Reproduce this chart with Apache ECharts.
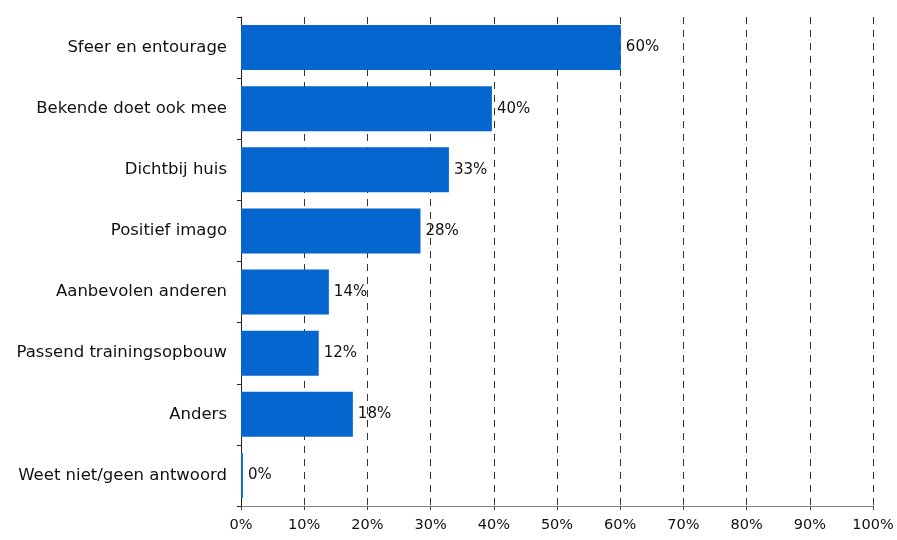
<!DOCTYPE html>
<html><head><meta charset="utf-8">
<script src="https://cdn.jsdelivr.net/npm/echarts@6/dist/echarts.min.js"></script>
<style>html,body{margin:0;padding:0;background:#fff}#c{width:897px;height:540px}</style>
</head><body><div id="c"></div>
<script>
const categories = ["Sfeer en entourage","Bekende doet ook mee","Dichtbij huis","Positief imago","Aanbevolen anderen","Passend trainingsopbouw","Anders","Weet niet/geen antwoord"];
const values = [60.1, 39.7, 32.9, 28.4, 13.9, 12.3, 17.7, 0.3];
const labels = ["60%","40%","33%","28%","14%","12%","18%","0%"];
const xTicks = [0,10,20,30,40,50,60,70,80,90,100];

const chart = echarts.init(document.getElementById('c'), null, {renderer:'canvas'});
const font = "'DejaVu Sans', Verdana, sans-serif";
chart.setOption({
  animation:false,
  grid:{left:241,right:24,top:17,bottom:34,containLabel:false},
  xAxis:{type:'value',min:xTicks[0],max:xTicks[xTicks.length-1],interval:10,
    axisLine:{show:true,lineStyle:{color:'#888',width:1}},
    axisTick:{show:true,length:4,lineStyle:{color:'#444'}},
    axisLabel:{formatter:v=>v+'%',color:'#111',fontSize:14.5,fontFamily:font,margin:12},
    splitLine:{show:true,lineStyle:{type:[7,6],color:'#333',width:1}}},
  yAxis:{type:'category',data:categories,inverse:true,
    axisLine:{show:true,lineStyle:{color:'#222',width:1}},
    axisTick:{show:true,length:4,lineStyle:{color:'#222'}},
    axisLabel:{color:'#111',fontSize:16.5,fontFamily:font,margin:14}},
  series:[{type:'bar',data:values,barWidth:45,
    itemStyle:{color:'#0466CE'},
    label:{show:true,position:'right',distance:5,color:'#111',fontSize:15,fontFamily:font,
      formatter:p=>labels[p.dataIndex]}}]
});
</script></body></html>
